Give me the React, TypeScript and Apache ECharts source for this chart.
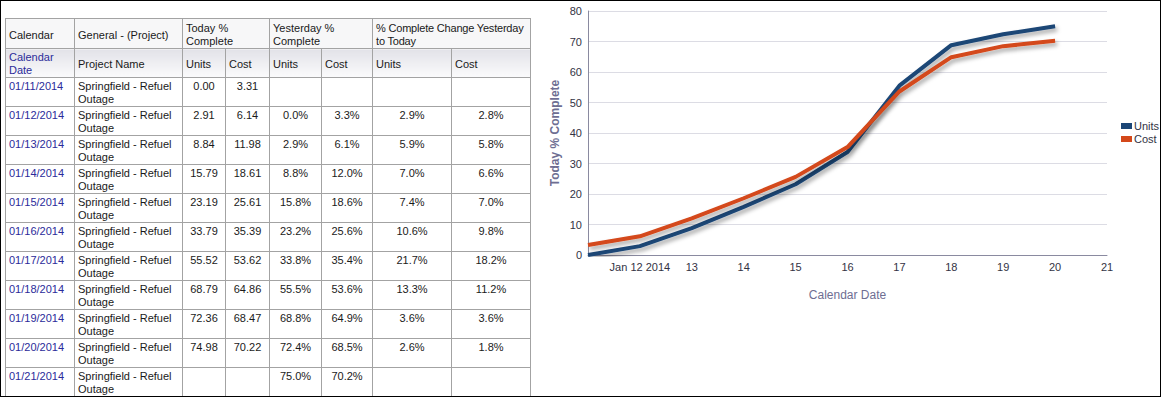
import React, { useEffect, useRef } from "react";
import * as echarts from "echarts";

const dates = ["01/11/2014", "01/12/2014", "01/13/2014", "01/14/2014", "01/15/2014", "01/16/2014", "01/17/2014", "01/18/2014", "01/19/2014", "01/20/2014", "01/21/2014"];
const projectName = "Springfield - Refuel Outage";
const todayUnits = [0.0, 2.91, 8.84, 15.79, 23.19, 33.79, 55.52, 68.79, 72.36, 74.98, null];
const todayCost = [3.31, 6.14, 11.98, 18.61, 25.61, 35.39, 53.62, 64.86, 68.47, 70.22, null];
const yesterdayUnits = [null, 0.0, 2.9, 8.8, 15.8, 23.2, 33.8, 55.5, 68.8, 72.4, 75.0];
const yesterdayCost = [null, 3.3, 6.1, 12.0, 18.6, 25.6, 35.4, 53.6, 64.9, 68.5, 70.2];
const changeUnits = [null, 2.9, 5.9, 7.0, 7.4, 10.6, 21.7, 13.3, 3.6, 2.6, null];
const changeCost = [null, 2.8, 5.8, 6.6, 7.0, 9.8, 18.2, 11.2, 3.6, 1.8, null];
const xTickLabels = ["", "Jan 12 2014", "13", "14", "15", "16", "17", "18", "19", "20", "21"];
const yTicks = [0, 10, 20, 30, 40, 50, 60, 70, 80];

const GRID = "#a3a3a3";
const FONT = "'Liberation Sans', Arial, sans-serif";

const cell: React.CSSProperties = {
  border: `1px solid ${GRID}`,
  padding: "2px 3px 0 3px",
  verticalAlign: "top",
  lineHeight: "13px",
  whiteSpace: "nowrap",
  overflow: "visible",
  height: 26,
  boxSizing: "content-box",
};

function Chart() {
  const ref = useRef<HTMLDivElement>(null);
  useEffect(() => {
    if (!ref.current) return;
    const chart = echarts.init(ref.current, undefined, { renderer: "svg" });
    const days = dates.map((d) => parseInt(d.slice(3, 5), 10));
    const mk = (vals: (number | null)[]) =>
      days.map((d, i) => [d, vals[i]]).filter((p) => p[1] !== null);
    const shadow = {
      shadowColor: "rgba(0,0,0,0.35)",
      shadowBlur: 4,
      shadowOffsetX: 2,
      shadowOffsetY: 3,
    };
    chart.setOption({
      animation: false,
      textStyle: { fontFamily: FONT },
      grid: { left: 57, top: 10, right: 53, bottom: 141, containLabel: false },
      legend: {
        orient: "vertical",
        left: 590,
        top: 119,
        padding: 0,
        itemWidth: 11,
        itemHeight: 6,
        itemGap: 1,
        icon: "rect",
        textStyle: { fontSize: 11, color: "#333344", fontFamily: FONT, padding: [0, 0, 0, -3], lineHeight: 12 },
        data: ["Units", "Cost"],
      },
      xAxis: {
        type: "value",
        min: 11,
        max: 21,
        interval: 1,
        name: "Calendar Date",
        nameLocation: "middle",
        nameGap: 34,
        nameTextStyle: { color: "#6e6e92", fontSize: 12, fontFamily: FONT },
        axisLine: { show: true, lineStyle: { color: "#8a8aa0", width: 1 } },
        axisTick: { show: false },
        splitLine: { show: false },
        axisLabel: {
          color: "#333344",
          fontSize: 11,
          margin: 6,
          formatter: (v: number) => xTickLabels[Math.round(v) - 11] ?? "",
        },
      },
      yAxis: {
        type: "value",
        min: yTicks[0],
        max: yTicks[yTicks.length - 1],
        interval: 10,
        name: "Today % Complete",
        nameLocation: "middle",
        nameGap: 27,
        nameMoveOverlap: false,
        nameTextStyle: { color: "#6e6e92", fontSize: 12, fontWeight: "bold", fontFamily: FONT },
        axisLine: { show: true, lineStyle: { color: "#8a8aa0", width: 1 } },
        axisTick: { show: false },
        splitLine: { show: true, lineStyle: { color: "#dcdce4", width: 1 } },
        axisLabel: { color: "#333344", fontSize: 11, margin: 6 },
      },
      series: [
        {
          name: "Units",
          type: "line",
          data: mk(todayUnits),
          symbol: "none",
          color: "#1b4676",
          lineStyle: { width: 4, color: "#1b4676", ...shadow },
        },
        {
          name: "Cost",
          type: "line",
          data: mk(todayCost),
          symbol: "none",
          color: "#d4481a",
          lineStyle: { width: 4, color: "#d4481a", ...shadow },
        },
      ],
    });
    return () => chart.dispose();
  }, []);
  return <div ref={ref} style={{ position: "absolute", left: 530, top: 0, width: 629, height: 395 }} />;
}

const fmtNum = (v: number | null) => (v === null ? "" : v.toFixed(2));
const fmtPct = (v: number | null) => (v === null ? "" : v.toFixed(1) + "%");

export default function App() {
  const colWidths = [69, 108, 43, 44, 52, 51, 79, 79];
  const h1: React.CSSProperties = { ...cell, verticalAlign: "middle", background: "#f7f7f8", paddingTop: 3, height: 25 };
  const h2: React.CSSProperties = {
    ...cell,
    verticalAlign: "middle",
    background: "linear-gradient(#e2e2e8, #fbfbfc)",
    paddingTop: 2,
  };
  const center: React.CSSProperties = { ...cell, textAlign: "center" };
  const [p1, p2] = ["Springfield - Refuel", "Outage"];
  return (
    <div
      style={{
        position: "absolute",
        left: 0,
        top: 0,
        width: 1161,
        height: 397,
        boxSizing: "border-box",
        border: "1px solid #000",
        background: "#fff",
        overflow: "hidden",
        fontFamily: FONT,
        fontSize: 11,
        color: "#1a1a1a",
      }}
    >
      <table
        style={{
          position: "absolute",
          left: 4,
          top: 17,
          borderCollapse: "collapse",
          tableLayout: "fixed",
          width: 526,
          fontSize: 11,
          fontFamily: FONT,
        }}
      >
        <colgroup>
          {colWidths.map((w, i) => (
            <col key={i} style={{ width: w }} />
          ))}
        </colgroup>
        <tbody>
          <tr>
            <td style={h1}>Calendar</td>
            <td style={h1}>General - (Project)</td>
            <td style={h1} colSpan={2}>Today %<br />Complete</td>
            <td style={h1} colSpan={2}>Yesterday %<br />Complete</td>
            <td style={{ ...h1, letterSpacing: -0.2 }} colSpan={2}>% Complete Change Yesterday<br />to Today</td>
          </tr>
          <tr>
            <td style={{ ...h2, color: "#2b2b9a" }}>Calendar<br />Date</td>
            <td style={h2}>Project Name</td>
            <td style={h2}>Units</td>
            <td style={h2}>Cost</td>
            <td style={h2}>Units</td>
            <td style={h2}>Cost</td>
            <td style={h2}>Units</td>
            <td style={h2}>Cost</td>
          </tr>
          {dates.map((d, i) => (
            <tr key={d}>
              <td style={{ ...cell, color: "#2b2b9a" }}>{d}</td>
              <td style={cell} title={projectName}>{p1}<br />{p2}</td>
              <td style={center}>{fmtNum(todayUnits[i])}</td>
              <td style={center}>{fmtNum(todayCost[i])}</td>
              <td style={center}>{fmtPct(yesterdayUnits[i])}</td>
              <td style={center}>{fmtPct(yesterdayCost[i])}</td>
              <td style={center}>{fmtPct(changeUnits[i])}</td>
              <td style={center}>{fmtPct(changeCost[i])}</td>
            </tr>
          ))}
        </tbody>
      </table>
      <Chart />
    </div>
  );
}
